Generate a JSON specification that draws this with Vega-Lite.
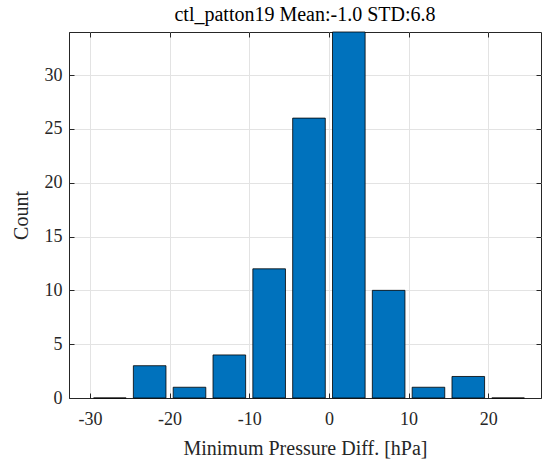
{
  "$schema": "https://vega.github.io/schema/vega-lite/v6.json",
  "width": 472,
  "height": 366,
  "autosize": {"type": "none"},
  "padding": {"left": 69, "top": 32, "right": 5, "bottom": 63},
  "background": "white",
  "title": {
    "text": "ctl_patton19 Mean:-1.0 STD:6.8",
    "font": "Liberation Serif",
    "fontSize": 20,
    "fontWeight": "normal",
    "color": "#000000",
    "offset": 4
  },
  "data": {
    "values": [
      {"center": -27.5, "count": 0},
      {"center": -22.5, "count": 3},
      {"center": -17.5, "count": 1},
      {"center": -12.5, "count": 4},
      {"center": -7.5, "count": 12},
      {"center": -2.5, "count": 26},
      {"center": 2.5, "count": 34},
      {"center": 7.5, "count": 10},
      {"center": 12.5, "count": 1},
      {"center": 17.5, "count": 2},
      {"center": 22.5, "count": 0}
    ]
  },
  "layer": [
    {
      "mark": {"type": "bar", "size": 32.6, "color": "#0072BD", "stroke": "#000000", "strokeWidth": 0.8},
      "encoding": {
        "x": {
          "field": "center",
          "type": "quantitative",
          "scale": {"domain": [-32, 26], "nice": false, "zero": false},
          "axis": {
            "title": "Minimum Pressure Diff. [hPa]",
            "values": [-30, -20, -10, 0, 10, 20],
            "labelExpr": "replace(datum.label, '\u2212', '-')",
            "labelFont": "Liberation Serif",
            "titleFont": "Liberation Serif",
            "tickSize": -5,
            "labelPadding": 17,
            "titlePadding": 10
          }
        },
        "y": {
          "field": "count",
          "type": "quantitative",
          "scale": {"domain": [0, 34], "nice": false},
          "axis": {
            "title": "Count",
            "values": [0, 5, 10, 15, 20, 25, 30],
            "labelFont": "Liberation Serif",
            "titleFont": "Liberation Serif",
            "tickSize": -5,
            "labelPadding": 12,
            "titlePadding": 13
          }
        }
      }
    },
    {
      "mark": {"type": "point", "opacity": 0},
      "encoding": {
        "x": {
          "field": "center",
          "type": "quantitative",
          "axis": {
            "orient": "top",
            "title": null,
            "labels": false,
            "grid": false,
            "domain": false,
            "values": [-30, -20, -10, 0, 10, 20],
            "tickSize": -5,
            "tickColor": "#262626"
          }
        },
        "y": {
          "field": "count",
          "type": "quantitative",
          "axis": {
            "orient": "right",
            "title": null,
            "labels": false,
            "grid": false,
            "domain": false,
            "values": [0, 5, 10, 15, 20, 25, 30],
            "tickSize": -5,
            "tickColor": "#262626"
          }
        }
      }
    }
  ],
  "resolve": {"axis": {"x": "independent", "y": "independent"}},
  "config": {
    "font": "Liberation Serif",
    "view": {"stroke": "#262626", "strokeWidth": 1},
    "axis": {
      "labelFont": "Liberation Serif",
      "titleFont": "Liberation Serif",
      "labelFontSize": 18,
      "titleFontSize": 20,
      "titleFontWeight": "normal",
      "labelColor": "#262626",
      "titleColor": "#262626",
      "domainColor": "#262626",
      "tickColor": "#262626",
      "gridColor": "#e3e3e3",
      "gridWidth": 1
    }
  }
}
